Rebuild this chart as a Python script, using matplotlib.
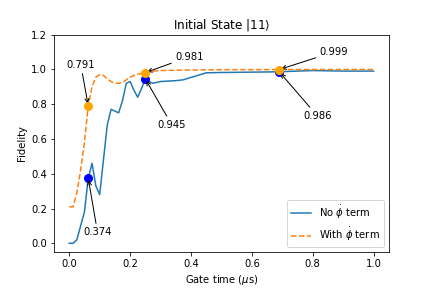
import matplotlib
matplotlib.use("Agg")
import matplotlib.pyplot as plt

# gate times (us) and fidelities
gate_time = [0.0, 0.0125, 0.025, 0.0375, 0.05, 0.0625, 0.075, 0.0875, 0.1, 0.1125,
             0.125, 0.1375, 0.15, 0.1625, 0.175, 0.1875, 0.2, 0.2125, 0.225, 0.2375,
             0.25, 0.2625, 0.275, 0.3, 0.35, 0.375, 0.45, 0.5, 0.6, 0.69,
             0.75, 0.8, 0.9, 1.0]
fid_no_phidot = [0.0, 0.0, 0.02, 0.10, 0.18, 0.374, 0.46, 0.33, 0.28, 0.48,
                 0.68, 0.77, 0.76, 0.75, 0.82, 0.92, 0.93, 0.88, 0.84, 0.89,
                 0.945, 0.93, 0.92, 0.93, 0.935, 0.94, 0.98, 0.982, 0.984, 0.986,
                 0.99, 0.993, 0.99, 0.99]
fid_with_phidot = [0.21, 0.21, 0.29, 0.42, 0.58, 0.791, 0.90, 0.955, 0.97, 0.965,
                   0.945, 0.93, 0.92, 0.92, 0.925, 0.94, 0.955, 0.965, 0.972, 0.977,
                   0.981, 0.986, 0.99, 0.993, 0.995, 0.996, 0.997, 0.998, 0.998, 0.999,
                   0.999, 0.999, 0.999, 0.999]

# highlighted points
mark_t = [0.0625, 0.25, 0.69]
mark_no = [0.374, 0.945, 0.986]
mark_with = [0.791, 0.981, 0.999]

# where the annotation labels sit (data coords)
label_no_pos = [(0.093, 0.063), (0.337, 0.681), (0.815, 0.733)]
label_with_pos = [(0.038, 1.027), (0.395, 1.073), (0.87, 1.10)]

fig, ax = plt.subplots(figsize=(6, 4), dpi=72)
fig.subplots_adjust(bottom=0.125)

ax.plot(gate_time, fid_no_phidot, '-', label=r'No $\dot{\phi}$ term')
ax.plot(gate_time, fid_with_phidot, '--', label=r'With $\dot{\phi}$ term')
ax.plot(mark_t, mark_no, 'o', color='blue', markersize=8, zorder=3)
ax.plot(mark_t, mark_with, 'o', color='orange', markersize=8, zorder=4)

for t, f, pos in zip(mark_t, mark_no, label_no_pos):
    ax.annotate(f"{f:.3f}", xy=(t, f), xytext=pos, ha='center', va='center',
                arrowprops=dict(arrowstyle='->', color='black'))
for t, f, pos in zip(mark_t, mark_with, label_with_pos):
    ax.annotate(f"{f:.3f}", xy=(t, f), xytext=pos, ha='center', va='center',
                arrowprops=dict(arrowstyle='->', color='black'))

ax.set_ylim(-0.05, 1.2)
ax.set_title(r'Initial State $|11\rangle$')
ax.set_xlabel(r'Gate time ($\mu$s)')
ax.set_ylabel('Fidelity')
ax.legend(loc='lower right')

fig.savefig('out.png')
